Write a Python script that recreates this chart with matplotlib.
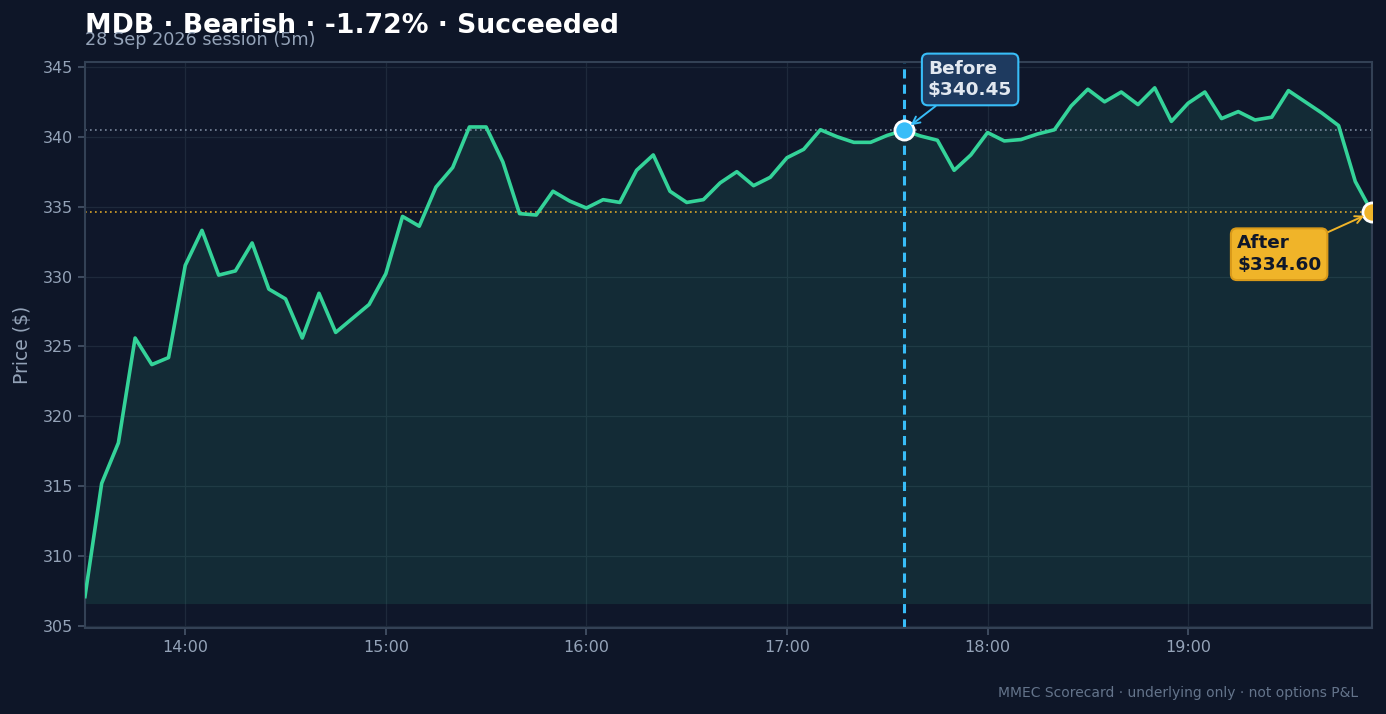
import numpy as np
import pandas as pd
import matplotlib
matplotlib.use('Agg')
import matplotlib.pyplot as plt
import matplotlib.dates as mdates

# 5-minute closes, 13:30 -> 19:55
start_time = '2026-09-28 13:30'
prices = [307.1, 315.2, 318.1, 325.6, 323.7, 324.2, 330.8, 333.3, 330.1, 330.4,
          332.4, 329.1, 328.4, 325.6, 328.8, 326.0, 327.0, 328.0, 330.2, 334.3,
          333.6, 336.4, 337.8, 340.7, 340.7, 338.2, 334.5, 334.4, 336.1, 335.4,
          334.9, 335.5, 335.3, 337.6, 338.7, 336.1, 335.3, 335.5, 336.7, 337.5,
          336.5, 337.1, 338.5, 339.1, 340.5, 340.0, 339.6, 339.6, 340.1, 340.45,
          340.05, 339.75, 337.6, 338.7, 340.3, 339.7, 339.8, 340.2, 340.5, 342.2,
          343.4, 342.5, 343.2, 342.3, 343.5, 341.1, 342.4, 343.2, 341.3, 341.8,
          341.2, 341.4, 343.3, 342.5, 341.7, 340.8, 336.8, 334.6]
before_idx = 49
before_price = 340.45
after_price = 334.60

title = 'MDB · Bearish · -1.72% · Succeeded'
subtitle = '28 Sep 2026 session (5m)'
footer = 'MMEC Scorecard · underlying only · not options P&L'

bg = '#0e1628'
panel = '#0f172a'
green = '#34d399'
blue = '#38bdf8'
gold = '#f0b429'
muted = '#94a3b8'

times = pd.date_range(start_time, periods=len(prices), freq='5min')
y = np.array(prices)

fig = plt.figure(figsize=(13.86, 7.14), dpi=100, facecolor=bg)
ax = fig.add_axes([0.0613, 0.1204, 0.9286, 0.7928])
ax.set_facecolor(panel)

ax.fill_between(times, y, y.min() - 0.5, color=green, alpha=0.11, lw=0)
ax.plot(times, y, color=green, lw=2.6, zorder=3)

ax.axhline(before_price, color=muted, ls=(0, (1, 2)), lw=1.2, alpha=0.8, zorder=2)
ax.axhline(after_price, color=gold, ls=(0, (1, 2)), lw=1.2, alpha=0.9, zorder=2)
ax.axvline(times[before_idx], color=blue, ls=(0, (3, 2)), lw=2.2, zorder=2)

ax.scatter([times[before_idx]], [before_price], s=190, color=blue, edgecolor='white',
           linewidth=2, zorder=5)
ax.scatter([times[-1]], [after_price], s=190, color=gold, edgecolor='white',
           linewidth=2, zorder=5)

ax.annotate('Before\n$340.45', xy=(times[before_idx], before_price),
            xytext=(24, 51), textcoords='offset pixels', ha='left', va='center',
            fontsize=13.3, fontweight='bold', color='#e2e8f0', linespacing=1.25,
            bbox=dict(boxstyle='round,pad=0.33', fc='#1e3a5f', ec=blue, lw=1.5),
            arrowprops=dict(arrowstyle='->', color=blue, lw=1.4, shrinkA=0, shrinkB=6),
            zorder=6)
ax.annotate('After\n$334.60', xy=(times[-1], after_price),
            xytext=(-135, -42), textcoords='offset pixels', ha='left', va='center',
            fontsize=13.3, fontweight='bold', color='#0f172a', linespacing=1.25,
            bbox=dict(boxstyle='round,pad=0.33', fc=gold, ec='#d99a1a', lw=1.5),
            arrowprops=dict(arrowstyle='->', color=gold, lw=1.4, shrinkA=0, shrinkB=6),
            zorder=6)

ax.set_xlim(times[0], times[-1])
ax.set_ylim(304.85, 345.35)
ax.set_yticks(np.arange(305, 346, 5))
ax.xaxis.set_major_locator(mdates.HourLocator())
ax.xaxis.set_major_formatter(mdates.DateFormatter('%H:%M'))

ax.grid(True, color='#1e293b', lw=0.9)
ax.set_axisbelow(True)
for s in ax.spines.values():
    s.set_color('#334155')
    s.set_linewidth(1.5)
ax.tick_params(colors='#475569', labelcolor=muted, labelsize=11.5, length=5, width=1.2)

ax.set_ylabel('Price ($)', color=muted, fontsize=13.5)
ax.yaxis.set_label_coords(-0.041, 0.5)

fig.text(0.0613, 0.9538, title, color='white', fontsize=19.2, fontweight='bold',
         va='baseline', ha='left')
fig.text(0.0613, 0.937, subtitle, color=muted, fontsize=12.7, va='baseline', ha='left')
fig.text(0.98, 0.024, footer, color='#64748b', fontsize=10, ha='right', va='baseline')

fig.savefig('out.png', dpi=100, facecolor=bg)
